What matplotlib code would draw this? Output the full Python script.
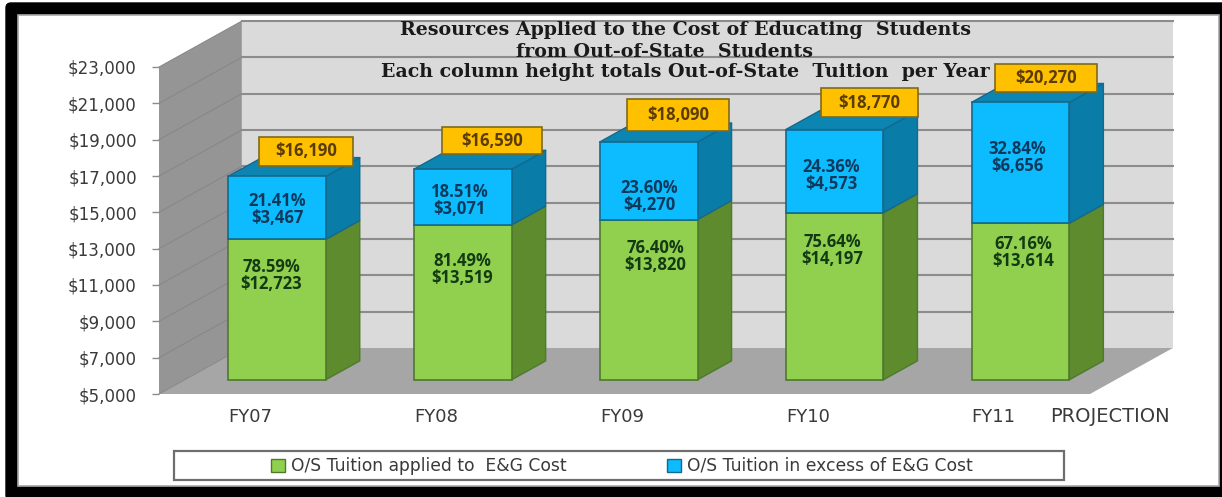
import matplotlib
matplotlib.use("Agg")
import matplotlib.pyplot as plt
from matplotlib.patches import Rectangle, FancyBboxPatch, Patch, Polygon
from matplotlib.transforms import Affine2D

# Chart data
fiscal_years = ["FY07", "FY08", "FY09", "FY10", "FY11"]
applied_to_cost = [12723, 13519, 13820, 14197, 13614]
in_excess = [3467, 3071, 4270, 4573, 6656]
applied_pct = ["78.59%", "81.49%", "76.40%", "75.64%", "67.16%"]
excess_pct = ["21.41%", "18.51%", "23.60%", "24.36%", "32.84%"]
y_ticks = list(range(5000, 23001, 2000))
title_lines = ["Resources Applied to the Cost of Educating  Students",
               "from Out-of-State  Students",
               "Each column height totals Out-of-State  Tuition  per Year"]

W, H = 1222, 497
fig = plt.figure(figsize=(W / 100, H / 100), dpi=100, facecolor="white")
# Pixel-style overlay coordinates (origin top left) for annotation layout
px = Affine2D().scale(1 / W, -1 / H).translate(0, 1) + fig.transFigure

# Outer picture frame
fig.add_artist(FancyBboxPatch((6, 3), W, H, boxstyle="round,pad=0,rounding_size=5",
                              transform=px, fc="black", ec="black", lw=1, zorder=-3))
fig.add_artist(Rectangle((18, 15), 1201, 471, transform=px, fc="white", ec="#a8a8a8", lw=1.2, zorder=-2))

XMIN, XMAX = -0.49, 4.518
ax = fig.add_axes([159 / W, (H - 394) / H, 931 / W, 327 / H])
ax.set_xlim(XMIN, XMAX)
ax.set_ylim(5000, 23000)
ax.patch.set_alpha(0)
for s in ax.spines.values():
    s.set_visible(False)

# Oblique projection: depth 1 is the back wall
DX, DY = 0.4457, 2532.0
BAR_FRONT, BAR_BACK = 0.31, 0.72
BAR_W = 0.526
BAR_OFFSET = 0.006
BASE = y_ticks[0]
TOP = y_ticks[-1]


def proj(x, y, d):
    return (x + d * DX, y + d * DY)


def face(points, color, edge=None, lw=0.0, z=1):
    ax.add_patch(Polygon([proj(*p) for p in points], closed=True, fc=color,
                         ec=edge if edge else color, lw=lw, zorder=z, clip_on=False,
                         joinstyle="round"))


# Walls and floor
face([(XMIN, BASE, 0), (XMIN, BASE, 1), (XMAX, BASE, 1), (XMAX, BASE, 0)], "#a6a6a6", z=1)
face([(XMIN, BASE, 1), (XMIN, TOP, 1), (XMAX, TOP, 1), (XMAX, BASE, 1)], "#dadada", z=1)
face([(XMIN, BASE, 0), (XMIN, TOP, 0), (XMIN, TOP, 1), (XMIN, BASE, 1)], "#959595", z=1)

# Gridlines run along the side wall and across the back wall
for t in y_ticks:
    xs = [proj(XMIN, t, 0)[0], proj(XMIN, t, 1)[0]]
    ys = [proj(XMIN, t, 0)[1], proj(XMIN, t, 1)[1]]
    ax.plot(xs, ys, color="#868686", lw=0.7, zorder=2, clip_on=False)
    if t > BASE:
        ax.plot([proj(XMIN, t, 1)[0], proj(XMAX, t, 1)[0]], [proj(XMIN, t, 1)[1]] * 2,
                color="#8c8c8c", lw=1.5, zorder=2, clip_on=False)

# Stacked columns
GREEN, GREEN_SIDE, GREEN_EDGE = "#90d04e", "#5f8b2f", "#4d7a2c"
BLUE, BLUE_SIDE, BLUE_TOP, BLUE_EDGE = "#0dbbff", "#0a7ca8", "#0c85b3", "#14698c"
lift = BAR_FRONT * DY
shift = BAR_FRONT * DX
for i, (a, e) in enumerate(zip(applied_to_cost, in_excess)):
    left, right = i + BAR_OFFSET - BAR_W / 2, i + BAR_OFFSET + BAR_W / 2
    total = a + e
    face([(right, BASE, BAR_FRONT), (right, BASE, BAR_BACK), (right, a, BAR_BACK), (right, a, BAR_FRONT)],
         GREEN_SIDE, GREEN_EDGE, 1.0, 3)
    face([(right, a, BAR_FRONT), (right, a, BAR_BACK), (right, total, BAR_BACK), (right, total, BAR_FRONT)],
         BLUE_SIDE, BLUE_EDGE, 1.0, 3)
    face([(left, total, BAR_FRONT), (left, total, BAR_BACK), (right, total, BAR_BACK), (right, total, BAR_FRONT)],
         BLUE_TOP, BLUE_EDGE, 1.0, 3)

bar_x = [i + BAR_OFFSET + shift for i in range(5)]
green_bars = ax.bar(bar_x, [a - BASE for a in applied_to_cost], BAR_W,
                    bottom=BASE + lift, color=GREEN, edgecolor=GREEN_EDGE, lw=1.2, zorder=4, clip_on=False)
blue_bars = ax.bar(bar_x, in_excess, BAR_W,
                   bottom=[a + lift for a in applied_to_cost],
                   color=BLUE, edgecolor=BLUE_EDGE, lw=1.2, zorder=4, clip_on=False)

# Axes ticks
ax.set_yticks(y_ticks, [f"${t:,}" for t in y_ticks], fontsize=12, color="#3a3a3a")
ax.set_xticks(range(5), fiscal_years, fontsize=13, color="#3a3a3a")
ax.tick_params(axis="y", length=5, width=1, color="#8c8c8c", pad=11)
ax.tick_params(axis="x", length=0, pad=10)

# Title
label_font = dict(family="Open Sans", fontweight="bold", fontsize=12, ha="center", va="center", zorder=6)
for text, x, y in zip(title_lines, (686, 665, 685), (30, 52, 72)):
    fig.text(x, y, text, transform=px, family="DejaVu Serif", fontweight="bold", fontsize=13.7,
             color="#1a1a1a", ha="center", va="center", zorder=6)

# Segment labels
blue_xy = [(277, 201), (459, 192), (649, 188), (831, 167), (1017, 149)]
green_xy = [(271, 267), (462, 261), (655, 248), (832, 242), (1023, 244)]
for (x, y), pct, val in zip(blue_xy, excess_pct, in_excess):
    fig.text(x, y, pct, transform=px, color="#0d3a5c", **label_font)
    fig.text(x, y + 17, f"${val:,}", transform=px, color="#0d3a5c", **label_font)
for (x, y), pct, val in zip(green_xy, applied_pct, applied_to_cost):
    fig.text(x, y, pct, transform=px, color="#143a14", **label_font)
    fig.text(x, y + 17, f"${val:,}", transform=px, color="#143a14", **label_font)

# Column totals in yellow boxes
boxes = [(259, 137, 94, 29), (442, 127, 100, 27), (627, 99, 102, 32), (821, 88, 97, 29), (995, 64, 102, 28)]
for (x, y, w, h), a, e in zip(boxes, applied_to_cost, in_excess):
    fig.add_artist(Rectangle((x, y), w, h, transform=px, fc="#ffc000", ec="#7f6a1a", lw=1.2, zorder=5))
    fig.text(x + w / 2, y + h / 2, f"${a + e:,}", transform=px, color="#5a3c00", **label_font)

fig.text(1110, 417, "PROJECTION", transform=px, fontsize=14, color="#3a3a3a", ha="center", va="center")

# Legend
fig.add_artist(Rectangle((174, 451), 890, 29, transform=px, fc="white", ec="#6e6e6e", lw=1.6, zorder=5))
handles = [Patch(fc=GREEN, ec=GREEN_EDGE, lw=1), Patch(fc=BLUE, ec=BLUE_EDGE, lw=1)]
leg = fig.legend(handles, ["O/S Tuition applied to  E&G Cost", "O/S Tuition in excess of E&G Cost"],
                 loc="center", bbox_to_anchor=(622 / W, (H - 466) / H), ncol=2, frameon=False,
                 fontsize=12.3, labelcolor="#3a3a3a", handlelength=0.8, handleheight=0.8,
                 handletextpad=0.35, columnspacing=5.9)
leg.set_zorder(6)

fig.savefig("out.png", dpi=100)
